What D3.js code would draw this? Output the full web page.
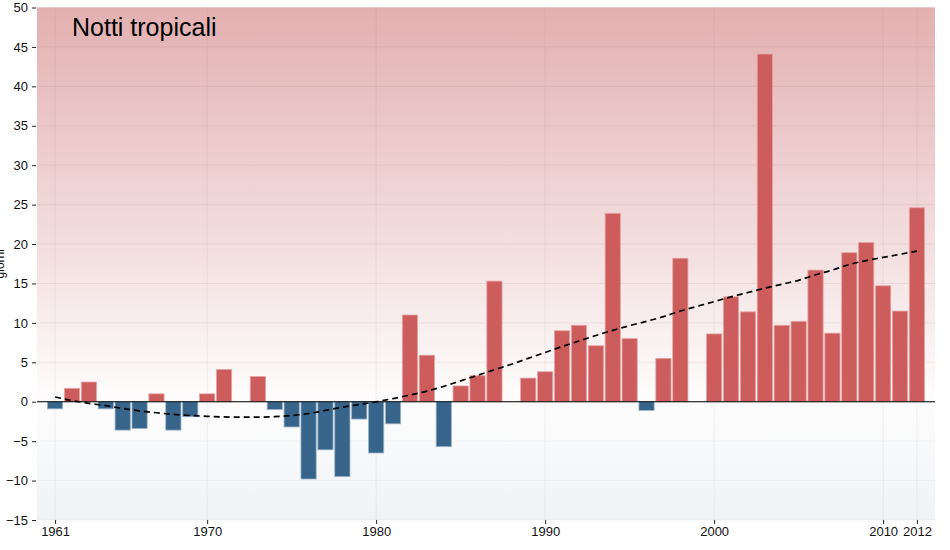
<!DOCTYPE html>
<html>
<head>
<meta charset="utf-8">
<script src="https://cdn.jsdelivr.net/npm/d3@7"></script>
<style>
  html, body { margin: 0; padding: 0; background: #ffffff; }
  svg { display: block; font-family: "Liberation Sans", Arial, Helvetica, sans-serif; }
</style>
</head>
<body>
<svg id="chart" width="950" height="550"></svg>
<script>
// ---- data ----
const years = [1961,1962,1963,1964,1965,1966,1967,1968,1969,1970,
               1971,1972,1973,1974,1975,1976,1977,1978,1979,1980,
               1981,1982,1983,1984,1985,1986,1987,1988,1989,1990,
               1991,1992,1993,1994,1995,1996,1997,1998,1999,2000,
               2001,2002,2003,2004,2005,2006,2007,2008,2009,2010,
               2011,2012];
const anomalies = [-0.9,1.7,2.5,-0.9,-3.6,-3.4,1.0,-3.6,-1.9,1.0,
                   4.1,null,3.2,-1.0,-3.2,-9.8,-6.1,-9.5,-2.2,-6.5,
                   -2.8,11.0,5.9,-5.7,2.0,3.3,15.3,null,3.0,3.8,
                   9.0,9.7,7.1,23.9,8.0,-1.1,5.5,18.2,null,8.6,
                   13.3,11.4,44.1,9.7,10.2,16.7,8.7,18.9,20.2,14.7,
                   11.5,24.6];
const trend = [0.6,0.15,-0.2,-0.5,-0.85,-1.15,-1.4,-1.6,-1.75,-1.85,
               -1.93,-1.95,-1.95,-1.9,-1.75,-1.5,-1.1,-0.7,-0.35,0.0,
               0.4,0.85,1.35,1.95,2.65,3.35,4.05,4.75,5.5,6.25,
               7.0,7.7,8.4,9.05,9.65,10.2,10.8,11.5,12.1,12.7,
               13.3,13.85,14.4,14.9,15.4,16.1,16.7,17.4,17.9,18.3,
               18.7,19.1];
const yTicks = [-15,-10,-5,0,5,10,15,20,25,30,35,40,45,50];
const xTicks = [1961,1970,1980,1990,2000,2010,2012];
const title = "Notti tropicali";
const yTitle = "giorni";

// ---- layout ----
const svg = d3.select("#chart");
const pL = 37, pR = 935, pT = 7.5, pB = 520;

const x = d3.scaleLinear().domain([1959.93, 2013.07]).range([pL, pR]);
const y = d3.scaleLinear().domain([-15, 50]).range([pB, pT]);
const barW = (x(1) - x(0)) * 0.9;

// background gradient
const defs = svg.append("defs");
const grad = defs.append("linearGradient")
  .attr("id", "bg").attr("x1", 0).attr("y1", 0).attr("x2", 0).attr("y2", 1);
const zeroOff = (y(0) - pT) / (pB - pT);
grad.append("stop").attr("offset", 0).attr("stop-color", "#e3b0b1");
grad.append("stop").attr("offset", zeroOff).attr("stop-color", "#fefdfd");
grad.append("stop").attr("offset", 1).attr("stop-color", "#eff3f5");

svg.append("rect")
  .attr("x", pL).attr("y", pT)
  .attr("width", pR - pL).attr("height", pB - pT)
  .attr("fill", "url(#bg)");

// grid
const grid = svg.append("g");
grid.selectAll("line.h").data(yTicks).join("line")
  .attr("x1", pL).attr("x2", pR)
  .attr("y1", d => y(d)).attr("y2", d => y(d))
  .attr("stroke", d => d >= 0 ? "rgba(150,80,80,0.10)" : "rgba(120,130,140,0.08)")
  .attr("stroke-width", 1);
grid.selectAll("line.v").data(xTicks).join("line")
  .attr("x1", d => x(d)).attr("x2", d => x(d))
  .attr("y1", pT).attr("y2", pB)
  .attr("stroke", "rgba(130,90,90,0.09)")
  .attr("stroke-width", 1);

// bars
const data = years.map((yr, i) => ({ yr, v: anomalies[i] })).filter(d => d.v !== null);
svg.append("g").selectAll("rect").data(data).join("rect")
  .attr("x", d => x(d.yr) - barW / 2)
  .attr("width", barW)
  .attr("y", d => y(Math.max(0, d.v)))
  .attr("height", d => Math.abs(y(d.v) - y(0)))
  .attr("fill", d => d.v >= 0 ? "#cd5c5c" : "#36648b")
  .attr("stroke", d => d.v >= 0 ? "#e7a3a3" : "#9db4c8")
  .attr("stroke-width", 0.8);

// zero line
svg.append("line")
  .attr("x1", pL).attr("x2", pR)
  .attr("y1", y(0)).attr("y2", y(0))
  .attr("stroke", "#000").attr("stroke-width", 1.2);

// trend line
const line = d3.line().x((d, i) => x(years[i])).y(d => y(d)).curve(d3.curveMonotoneX);
svg.append("path")
  .datum(trend)
  .attr("d", line)
  .attr("fill", "none")
  .attr("stroke", "#000")
  .attr("stroke-width", 1.7)
  .attr("stroke-dasharray", "6,4");

// axes
const yAxis = d3.axisLeft(y).tickValues(yTicks).tickSize(4).tickPadding(4);
const gy = svg.append("g").attr("transform", `translate(${pL - 1},0)`).call(yAxis);
gy.select(".domain").remove();
gy.selectAll("text").attr("font-size", 13).attr("fill", "#111")
  .attr("font-family", "Liberation Sans, Arial, sans-serif");
gy.selectAll("line").attr("stroke", "#222");

const xAxis = d3.axisBottom(x).tickValues(xTicks).tickFormat(d3.format("d")).tickSize(4).tickPadding(3);
const gx = svg.append("g").attr("transform", `translate(0,${pB})`).call(xAxis);
gx.select(".domain").remove();
gx.selectAll("text").attr("font-size", 13).attr("fill", "#111")
  .attr("font-family", "Liberation Sans, Arial, sans-serif");
gx.selectAll("line").attr("stroke", "#222");

// y title (partially cut off at the left edge, as in the reference)
svg.append("text")
  .attr("transform", `translate(4,${(pT + pB) / 2}) rotate(-90)`)
  .attr("text-anchor", "middle")
  .attr("font-size", 12)
  .attr("fill", "#111")
  .text(yTitle);

// title
svg.append("text")
  .attr("x", 72).attr("y", 36)
  .attr("font-size", 25)
  .attr("fill", "#000")
  .text(title);
</script>
</body>
</html>
